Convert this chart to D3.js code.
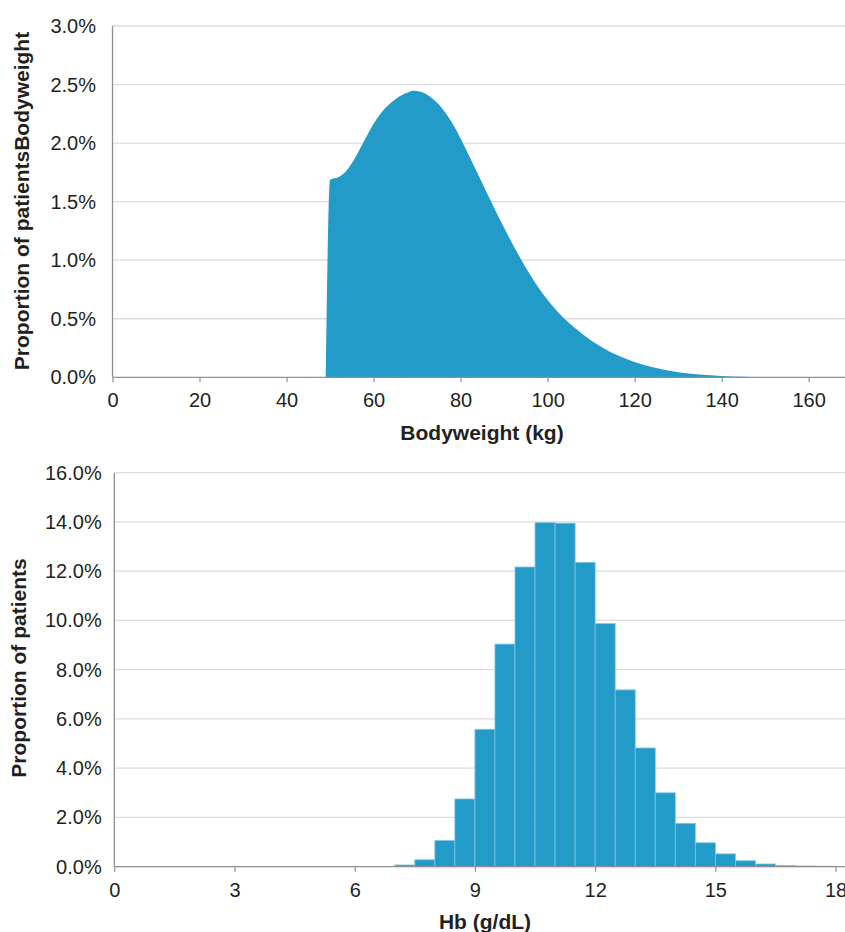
<!DOCTYPE html>
<html>
<head>
<meta charset="utf-8">
<script src="https://cdn.jsdelivr.net/npm/d3@7"></script>
<style>
  html, body { margin: 0; padding: 0; background: #fff; }
  svg { display: block; }
  text { font-family: "Liberation Sans", Arial, sans-serif; fill: #231f20; }
</style>
</head>
<body>
<svg id="chart" width="845" height="932"></svg>
<script>
// ---- Data: Bodyweight density (kg, % of patients) ----
const bwKg  = [49, 50, 52, 54, 56, 58, 60, 62, 64, 66, 68, 69, 70, 72, 74, 76, 78, 80, 82, 84, 86, 88, 90, 92, 94, 96, 98, 100, 102, 104, 106, 108, 110, 112, 114, 116, 118, 120, 122, 124, 126, 128, 130, 132, 135, 140, 145, 150, 155, 160];
const bwPct = [0, 1.686, 1.71, 1.775, 1.89, 2.03, 2.165, 2.27, 2.345, 2.40, 2.435, 2.447, 2.444, 2.42, 2.365, 2.285, 2.175, 2.04, 1.888, 1.733, 1.578, 1.425, 1.277, 1.135, 1.0, 0.875, 0.76, 0.66, 0.572, 0.495, 0.43, 0.37, 0.315, 0.268, 0.225, 0.19, 0.158, 0.13, 0.107, 0.088, 0.071, 0.056, 0.044, 0.034, 0.023, 0.011, 0.005, 0.002, 0.0007, 0.0];
const bwTicksX = [0, 20, 40, 60, 80, 100, 120, 140, 160];
const bwTicksY = [0, 0.5, 1.0, 1.5, 2.0, 2.5, 3.0];

// ---- Data: Hb histogram (bin start g/dL, bin width 0.5, % of patients) ----
const hbBinStart = [7.0, 7.5, 8.0, 8.5, 9.0, 9.5, 10.0, 10.5, 11.0, 11.5, 12.0, 12.5, 13.0, 13.5, 14.0, 14.5, 15.0, 15.5, 16.0, 16.5, 17.0, 17.5];
const hbPct      = [0.07, 0.28, 1.06, 2.75, 5.58, 9.04, 12.17, 13.97, 13.95, 12.36, 9.87, 7.18, 4.82, 3.00, 1.76, 0.97, 0.52, 0.24, 0.11, 0.05, 0.03, 0.02];
const hbBinWidth = 0.5;
const hbTicksX = [0, 3, 6, 9, 12, 15, 18];
const hbTicksY = [0, 2, 4, 6, 8, 10, 12, 14, 16];

const svg = d3.select("#chart");
const BLUE = "#239bc9";
const GRID = "#dcdcdc";
const AXIS = "#8f8f8f";

function drawFrame(g, x, y, ticksY, fmtY, labelRight) {
  const [x0, x1] = x.range();
  g.append("g").selectAll("line").data(ticksY.filter(d => d !== 0)).join("line")
    .attr("x1", x0).attr("x2", x1)
    .attr("y1", d => y(d)).attr("y2", d => y(d))
    .attr("stroke", GRID).attr("stroke-width", 1.3);
  g.append("g").selectAll("text").data(ticksY).join("text")
    .attr("x", labelRight).attr("y", d => y(d)).attr("dy", "0.35em")
    .attr("text-anchor", "end").attr("font-size", 20)
    .text(fmtY);
}

function drawAxes(g, x, y, ticksX) {
  const [x0, x1] = x.range();
  const [yb, yt] = y.range();
  const ax = d3.axisBottom(x).tickValues(ticksX).tickSize(5).tickPadding(11).tickFormat(d3.format("d"));
  const axG = g.append("g").attr("transform", `translate(0,${yb})`).call(ax);
  axG.select(".domain").remove();
  axG.selectAll(".tick line").attr("stroke", AXIS).attr("stroke-width", 1.2);
  axG.selectAll(".tick text").attr("font-size", 20).attr("fill", "#231f20")
     .attr("font-family", '"Liberation Sans", Arial, sans-serif');
  g.append("line").attr("x1", x0).attr("x2", x1).attr("y1", yb).attr("y2", yb)
    .attr("stroke", AXIS).attr("stroke-width", 1.3);
  g.append("line").attr("x1", x0).attr("x2", x0).attr("y1", yt).attr("y2", yb)
    .attr("stroke", AXIS).attr("stroke-width", 1.3);
}

// ---------- Top chart: Bodyweight ----------
{
  const g = svg.append("g");
  const x = d3.scaleLinear().domain([0, (845 - 112.5) / 4.351]).range([112.5, 845]);
  const y = d3.scaleLinear().domain([0, 3.0]).range([377.3, 26]);
  drawFrame(g, x, y, bwTicksY, d => d.toFixed(1) + "%", 96);
  const data = bwKg.map((k, i) => ({ k, v: bwPct[i] }));
  const area = d3.area()
    .x(d => x(d.k)).y0(y(0)).y1(d => y(d.v))
    .curve(d3.curveMonotoneX);
  g.append("path").datum(data).attr("d", area).attr("fill", BLUE);
  drawAxes(g, x, y, bwTicksX);
  g.append("text").attr("x", 482).attr("y", 440).attr("text-anchor", "middle")
    .attr("font-size", 21).attr("font-weight", "bold").text("Bodyweight (kg)");
  g.append("text").attr("transform", "translate(29,201) rotate(-90)")
    .attr("text-anchor", "middle").attr("font-size", 21).attr("font-weight", "bold")
    .text("Proportion of patientsBodyweight");
}

// ---------- Bottom chart: Hb ----------
{
  const g = svg.append("g");
  const x = d3.scaleLinear().domain([0, (845 - 114.3) / 40.07]).range([114.3, 845]);
  const y = d3.scaleLinear().domain([0, 16]).range([866.7, 472.7]);
  drawFrame(g, x, y, hbTicksY, d => d.toFixed(1) + "%", 101.7);
  const bins = hbBinStart.map((s, i) => ({ s, v: hbPct[i] }));
  g.append("g").selectAll("rect").data(bins).join("rect")
    .attr("x", d => x(d.s))
    .attr("width", d => x(d.s + hbBinWidth) - x(d.s))
    .attr("y", d => y(d.v))
    .attr("height", d => y(0) - y(d.v))
    .attr("fill", BLUE)
    .attr("stroke", "#7cc3e3").attr("stroke-width", 0.8);
  drawAxes(g, x, y, hbTicksX);
  g.append("text").attr("x", 485).attr("y", 929).attr("text-anchor", "middle")
    .attr("font-size", 21).attr("font-weight", "bold").text("Hb (g/dL)");
  g.append("text").attr("transform", "translate(26,668) rotate(-90)")
    .attr("text-anchor", "middle").attr("font-size", 21).attr("font-weight", "bold")
    .text("Proportion of patients");
}
</script>
</body>
</html>
